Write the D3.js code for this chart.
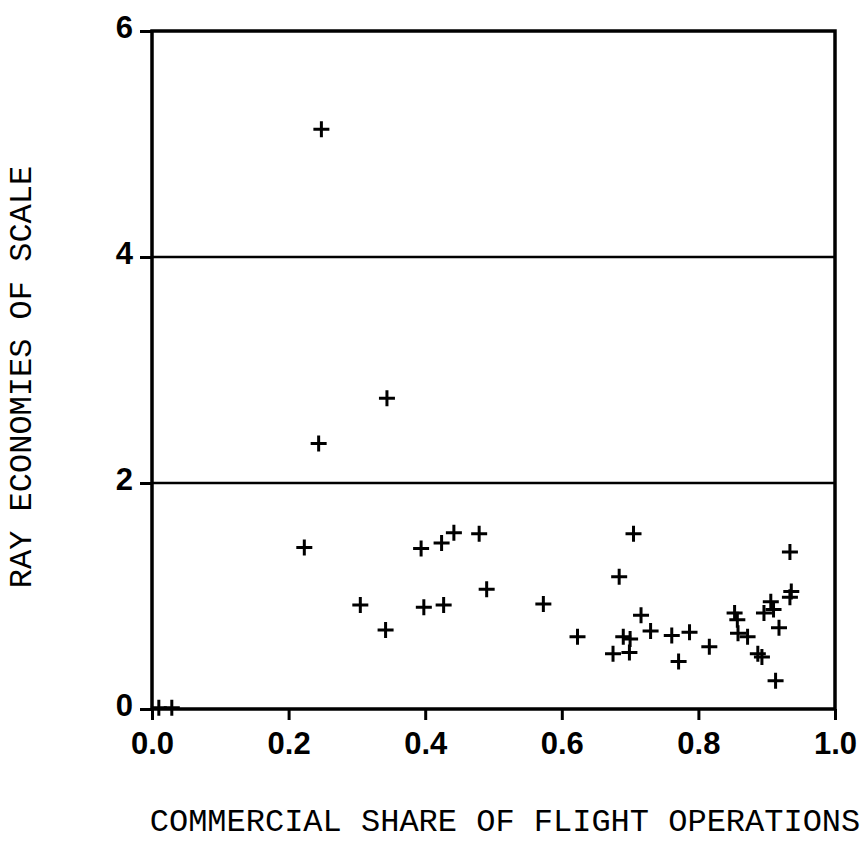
<!DOCTYPE html>
<html>
<head>
<meta charset="utf-8">
<script src="https://cdn.jsdelivr.net/npm/d3@7"></script>
<style>
  html, body { margin: 0; padding: 0; background: #fff; }
  svg { display: block; }
</style>
</head>
<body>
<svg id="chart" width="865" height="863"></svg>
<script>
// Data
const shareX = [0.010, 0.029, 0.223, 0.244, 0.248, 0.305, 0.342, 0.344, 0.394, 0.398,
                0.424, 0.427, 0.442, 0.479, 0.490, 0.573, 0.623, 0.675, 0.684, 0.690,
                0.700, 0.699, 0.705, 0.716, 0.730, 0.761, 0.771, 0.787, 0.816, 0.853,
                0.857, 0.858, 0.872, 0.887, 0.893, 0.896, 0.906, 0.910, 0.913, 0.918,
                0.934, 0.936, 0.934];
const rayY   = [0.01, 0.01, 1.43, 2.35, 5.13, 0.92, 0.70, 2.75, 1.42, 0.90,
                1.47, 0.92, 1.56, 1.55, 1.06, 0.93, 0.64, 0.49, 1.17, 0.64,
                0.62, 0.50, 1.55, 0.83, 0.69, 0.65, 0.42, 0.68, 0.55, 0.85,
                0.79, 0.67, 0.64, 0.49, 0.46, 0.85, 0.95, 0.88, 0.25, 0.72,
                1.39, 1.04, 0.99];
const xTicks = [0, 0.2, 0.4, 0.6, 0.8, 1.0];
const xTickLabels = ["0.0", "0.2", "0.4", "0.6", "0.8", "1.0"];
const yTicks = [0, 2, 4, 6];
const yTickLabels = ["0", "2", "4", "6"];
const refLines = [2, 4];
const xTitle = "COMMERCIAL SHARE OF FLIGHT OPERATIONS";
const yTitle = "RAY ECONOMIES OF SCALE";

const svg = d3.select("#chart");
const plotLeft = 152, plotRight = 835, plotTop = 31, plotBottom = 709;

const x = d3.scaleLinear().domain([0, 1]).range([plotLeft, plotRight]);
const y = d3.scaleLinear().domain([0, 6]).range([plotBottom, plotTop]);

const numFont = "'Liberation Sans', Arial, Helvetica, sans-serif";
const monoFont = "'Courier New', 'Liberation Mono', monospace";

// reference lines
svg.append("g").selectAll("line").data(refLines).join("line")
  .attr("x1", plotLeft).attr("x2", plotRight)
  .attr("y1", d => y(d)).attr("y2", d => y(d))
  .attr("stroke", "#000").attr("stroke-width", 2.5);

// frame
svg.append("rect")
  .attr("x", plotLeft).attr("y", plotTop)
  .attr("width", plotRight - plotLeft).attr("height", plotBottom - plotTop)
  .attr("fill", "none").attr("stroke", "#000").attr("stroke-width", 3.5);

// x axis
const xAxis = d3.axisBottom(x).tickValues(xTicks)
  .tickFormat((d, i) => xTickLabels[i]).tickSize(11).tickPadding(12);
const gx = svg.append("g").attr("transform", `translate(0,${plotBottom})`).call(xAxis);
gx.select(".domain").remove();
gx.selectAll(".tick line").attr("stroke", "#000").attr("stroke-width", 3);
gx.selectAll(".tick text").attr("fill", "#000")
  .style("font-family", numFont).style("font-size", "31px").style("font-weight", "bold");

// y axis
const yAxis = d3.axisLeft(y).tickValues(yTicks)
  .tickFormat((d, i) => yTickLabels[i]).tickSize(12).tickPadding(7);
const gy = svg.append("g").attr("transform", `translate(${plotLeft},0)`).call(yAxis);
gy.select(".domain").remove();
gy.selectAll(".tick line").attr("stroke", "#000").attr("stroke-width", 3);
gy.selectAll(".tick text").attr("fill", "#000").attr("dy", "0.2em")
  .style("font-family", numFont).style("font-size", "31px").style("font-weight", "bold");

// points (plus markers)
const pts = shareX.map((v, i) => [v, rayY[i]]);
const arm = 8;
const g = svg.append("g").attr("stroke", "#000").attr("stroke-width", 3).attr("fill", "none");
g.selectAll("path").data(pts).join("path")
  .attr("d", d => {
    const cx = x(d[0]), cy = y(d[1]);
    return `M${cx - arm},${cy}H${cx + arm}M${cx},${cy - arm}V${cy + arm}`;
  });

// titles
svg.append("text")
  .attr("x", 505).attr("y", 831)
  .attr("text-anchor", "middle")
  .style("font-family", monoFont).style("font-size", "32px")
  .text(xTitle);

svg.append("text")
  .attr("transform", `translate(31,377) rotate(-90)`)
  .attr("text-anchor", "middle")
  .style("font-family", monoFont).style("font-size", "32px")
  .text(yTitle);
</script>
</body>
</html>
